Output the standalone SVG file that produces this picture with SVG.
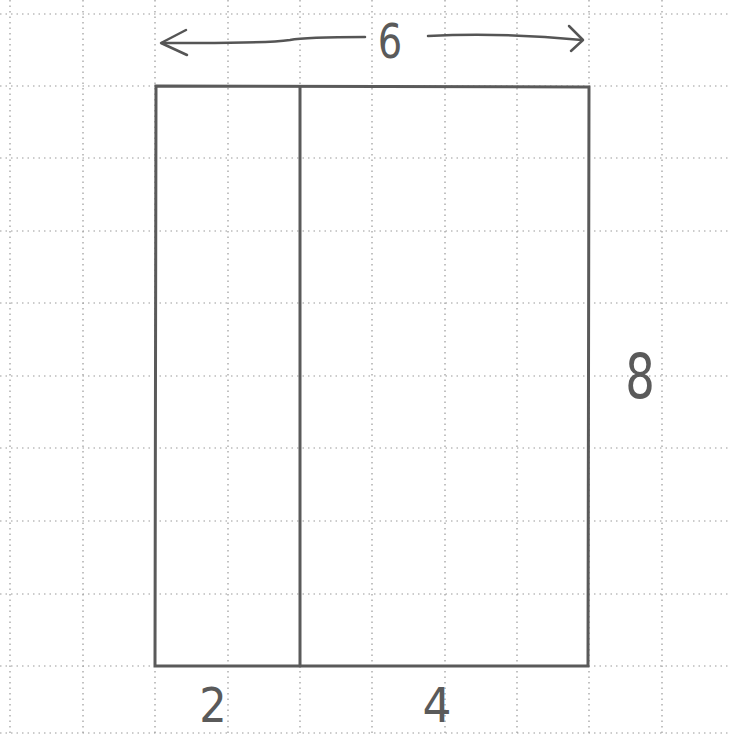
<svg xmlns="http://www.w3.org/2000/svg" width="729" height="735" viewBox="0 0 729 735">
  <style>
    .grid { stroke: #9a9a9a; stroke-width: 1.2; stroke-dasharray: 1.5 4; fill: none; }
    .edge { stroke: #5a5a5a; stroke-width: 3; fill: none; stroke-linecap: round; }
    .pen { stroke: #555; stroke-width: 2.5; fill: none; stroke-linecap: round; stroke-linejoin: round; }
    .lbl { font-family: "DejaVu Sans", "Liberation Sans", sans-serif; fill: #5a5a5a; font-weight: normal; }
  </style>
  <rect x="0" y="0" width="729" height="735" fill="#ffffff"/>
  <g id="grid">
    <line class="grid" x1="10" y1="0" x2="10" y2="735"/>
    <line class="grid" x1="83" y1="0" x2="83" y2="735"/>
    <line class="grid" x1="155" y1="0" x2="155" y2="735"/>
    <line class="grid" x1="228" y1="0" x2="228" y2="735"/>
    <line class="grid" x1="300" y1="0" x2="300" y2="735"/>
    <line class="grid" x1="372" y1="0" x2="372" y2="735"/>
    <line class="grid" x1="445" y1="0" x2="445" y2="735"/>
    <line class="grid" x1="517" y1="0" x2="517" y2="735"/>
    <line class="grid" x1="589" y1="0" x2="589" y2="735"/>
    <line class="grid" x1="662" y1="0" x2="662" y2="735"/>
    <line class="grid" x1="0" y1="14" x2="729" y2="14"/>
    <line class="grid" x1="0" y1="86" x2="729" y2="86"/>
    <line class="grid" x1="0" y1="158" x2="729" y2="158"/>
    <line class="grid" x1="0" y1="231" x2="729" y2="231"/>
    <line class="grid" x1="0" y1="303" x2="729" y2="303"/>
    <line class="grid" x1="0" y1="376" x2="729" y2="376"/>
    <line class="grid" x1="0" y1="448" x2="729" y2="448"/>
    <line class="grid" x1="0" y1="521" x2="729" y2="521"/>
    <line class="grid" x1="0" y1="594" x2="729" y2="594"/>
    <line class="grid" x1="0" y1="666" x2="729" y2="666"/>
    <line class="grid" x1="0" y1="733" x2="729" y2="733"/>
  </g>
  <g id="rectangle">
    <path class="edge" d="M156 86 L589 87 L588 666 L155 666 Z"/>
  </g>
  <g id="divider">
    <line class="edge" x1="300" y1="87" x2="300" y2="666"/>
  </g>
  <g id="connectors">
    <path class="pen" d="M365 37 C330 37 300 38 290 40 C260 44 210 43 162 43"/>
    <path class="pen" d="M186 30 L161 43 L187 55"/>
    <path class="pen" d="M428 36 C470 34 520 34 582 40"/>
    <path class="pen" d="M569 26 L583 40 L571 51"/>
  </g>
  <g id="label-6">
    <text class="lbl" x="390" y="58" font-size="48" text-anchor="middle" transform="translate(390 0) scale(0.8 1) translate(-390 0)">6</text>
  </g>
  <g id="label-2">
    <text class="lbl" x="213" y="722" font-size="48" text-anchor="middle" transform="translate(213 0) scale(0.9 1) translate(-213 0)">2</text>
  </g>
  <g id="label-4">
    <text class="lbl" x="437" y="722" font-size="48" text-anchor="middle" transform="translate(437 0) scale(0.95 1) translate(-437 0)">4</text>
  </g>
  <g id="label-8">
    <text class="lbl" x="640" y="398" font-size="62" text-anchor="middle" transform="translate(640 0) scale(0.75 1) translate(-640 0)">8</text>
  </g>
</svg>
